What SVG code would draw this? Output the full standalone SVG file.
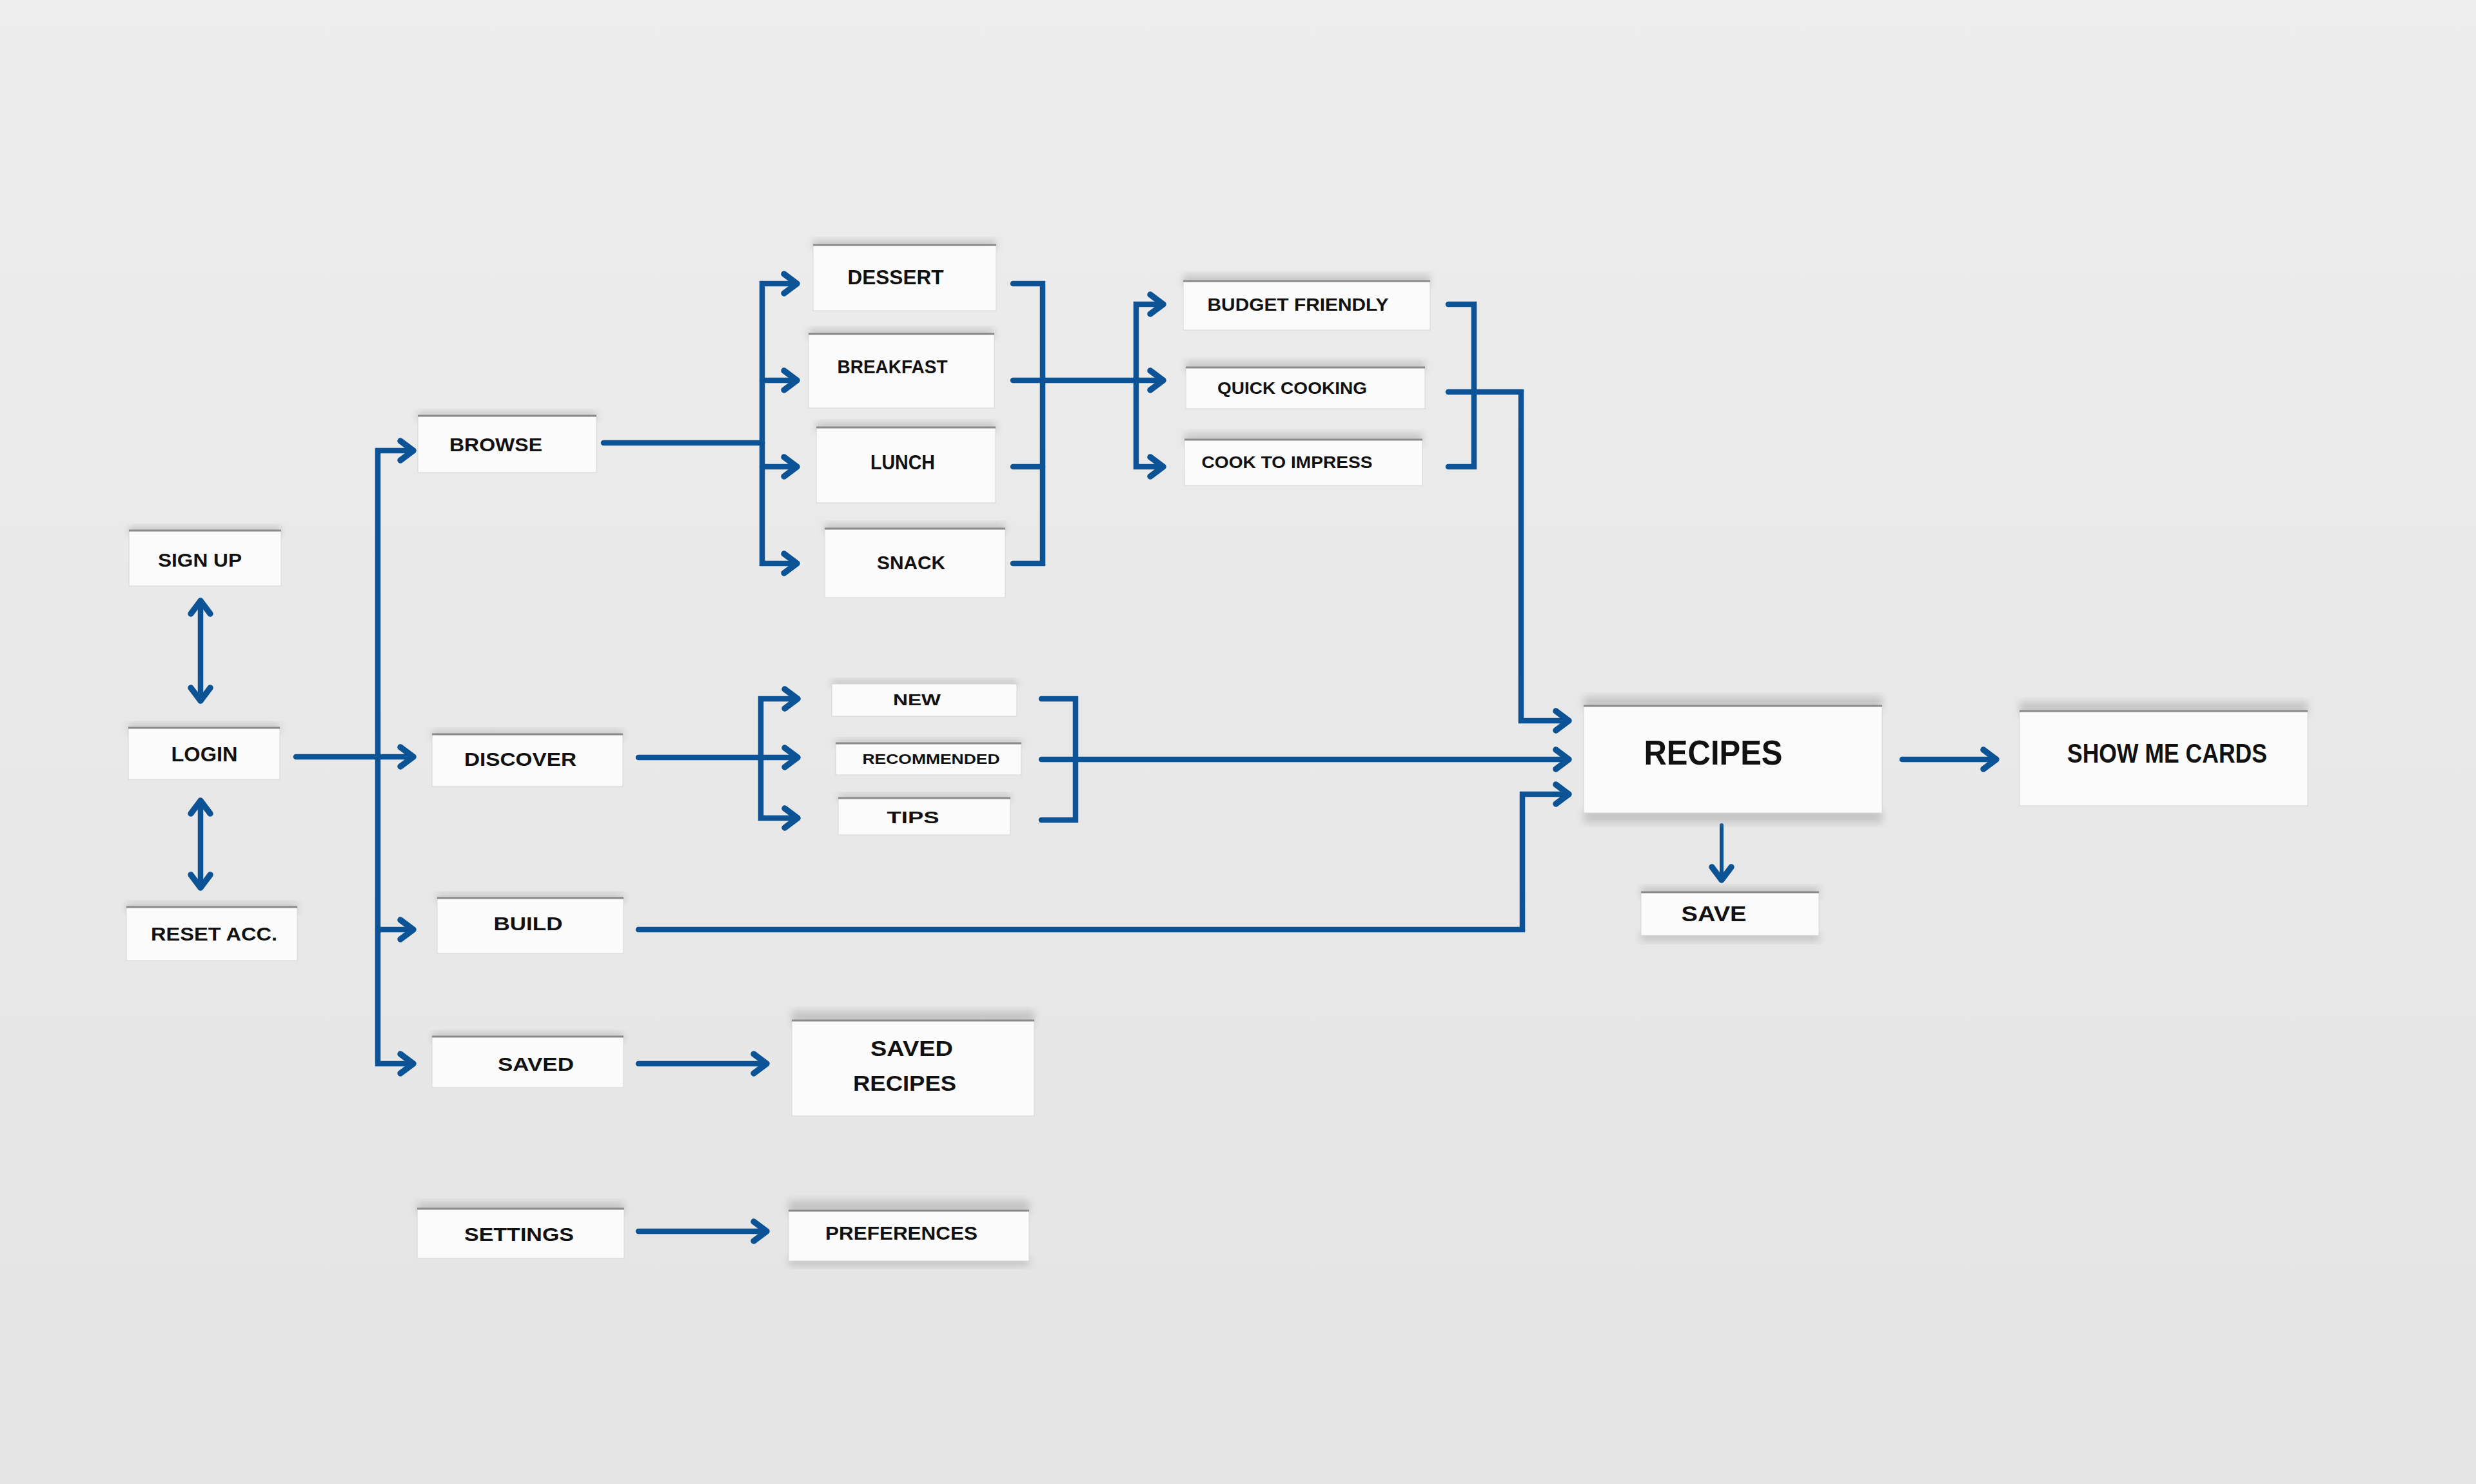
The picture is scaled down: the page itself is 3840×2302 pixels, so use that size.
<svg xmlns="http://www.w3.org/2000/svg" width="3840" height="2302" viewBox="0 0 3840 2302">
<style>
.card{fill:#fbfbfb;stroke:#d6d6d6;stroke-width:1}
.edge{stroke:#8a8a8a;stroke-width:3;fill:none}
.sh{fill:#9c9c9c;opacity:0.45;filter:url(#blur)}
.t{font-family:"Liberation Sans","DejaVu Sans",Arial,sans-serif;font-weight:700;fill:#111;text-anchor:middle;dominant-baseline:central}
.c{fill:none;stroke:#0b5394;stroke-width:8.5;stroke-linecap:round;stroke-linejoin:miter}
.a{marker-end:url(#arr)}
.b{marker-start:url(#arr);marker-end:url(#arr)}
</style>
<defs>
<linearGradient id="bg" x1="0" y1="0" x2="0" y2="1">
<stop offset="0" stop-color="#ededed"/>
<stop offset="1" stop-color="#e4e4e4"/>
</linearGradient>
<filter id="blur" x="-10%" y="-30%" width="120%" height="160%"><feGaussianBlur stdDeviation="6"/></filter>
<marker id="arr" markerUnits="userSpaceOnUse" viewBox="-30 -20 40 40" markerWidth="40" markerHeight="40" refX="0" refY="0" orient="auto-start-reverse" overflow="visible">
<path d="M-20,-15 L0,0 L-20,15" fill="none" stroke="#0b5394" stroke-width="9.5" stroke-linecap="round" stroke-linejoin="round"/>
</marker>
</defs>
<rect width="3840" height="2302" fill="url(#bg)"/>

<g id="connectors">
<path class="c b" d="M311,932 V1087"/>
<path class="c b" d="M311,1242 V1377"/>
<path class="c a" d="M459,1174 H641"/>
<path class="c a" d="M586,1174 V699 H641"/>
<path class="c a" d="M586,1174 V1650 H641"/>
<path class="c a" d="M586,1442 H641"/>
<path class="c" d="M936,687 H1182"/>
<path class="c a" d="M1182,687 V440 H1236"/>
<path class="c a" d="M1182,687 V874 H1236"/>
<path class="c a" d="M1182,590 H1236"/>
<path class="c a" d="M1182,724 H1236"/>
<path class="c" d="M1571,440 H1617 V874 H1571"/>
<path class="c" d="M1571,724 H1617"/>
<path class="c a" d="M1571,590 H1804"/>
<path class="c a" d="M1762,590 V472 H1804"/>
<path class="c a" d="M1762,590 V724 H1804"/>
<path class="c" d="M2246,472 H2286 V724 H2246"/>
<path class="c a" d="M2246,608 H2359 V1118 H2433"/>
<path class="c" d="M990,1175 H1180"/>
<path class="c a" d="M1180,1175 V1084 H1237"/>
<path class="c a" d="M1180,1175 V1269 H1237"/>
<path class="c a" d="M1180,1175 H1237"/>
<path class="c" d="M1615,1084 H1668 V1272 H1615"/>
<path class="c a" d="M1615,1178 H2433"/>
<path class="c a" d="M990,1442 H2361 V1232 H2433"/>
<path class="c a" d="M2950,1178 H3096"/>
<path class="c a" style="stroke-width:6" d="M2670,1280 V1365"/>
<path class="c a" d="M990,1650 H1189"/>
<path class="c a" d="M990,1910 H1189"/>
</g>

<g id="signup"><rect class="sh" x="200" y="817" width="236" height="14"/><rect class="card" x="200" y="823" width="236" height="86"/><line class="edge" x1="200" y1="823" x2="436" y2="823"/><text class="t" x="310" y="868" font-size="30" textLength="130" lengthAdjust="spacingAndGlyphs">SIGN UP</text></g>
<g id="login"><rect class="sh" x="199" y="1123" width="235" height="14"/><rect class="card" x="199" y="1129" width="235" height="80"/><line class="edge" x1="199" y1="1129" x2="434" y2="1129"/><text class="t" x="317" y="1170" font-size="32" textLength="103" lengthAdjust="spacingAndGlyphs">LOGIN</text></g>
<g id="reset"><rect class="sh" x="196" y="1401" width="265" height="14"/><rect class="card" x="196" y="1407" width="265" height="83"/><line class="edge" x1="196" y1="1407" x2="461" y2="1407"/><text class="t" x="332" y="1448" font-size="30" textLength="196" lengthAdjust="spacingAndGlyphs">RESET ACC.</text></g>
<g id="browse"><rect class="sh" x="648" y="639" width="277" height="14"/><rect class="card" x="648" y="645" width="277" height="88"/><line class="edge" x1="648" y1="645" x2="925" y2="645"/><text class="t" x="769" y="689" font-size="30" textLength="144" lengthAdjust="spacingAndGlyphs">BROWSE</text></g>
<g id="discover"><rect class="sh" x="670" y="1133" width="296" height="14"/><rect class="card" x="670" y="1139" width="296" height="81"/><line class="edge" x1="670" y1="1139" x2="966" y2="1139"/><text class="t" x="807" y="1177" font-size="30" textLength="174" lengthAdjust="spacingAndGlyphs">DISCOVER</text></g>
<g id="build"><rect class="sh" x="678" y="1387" width="289" height="14"/><rect class="card" x="678" y="1393" width="289" height="86"/><line class="edge" x1="678" y1="1393" x2="967" y2="1393"/><text class="t" x="819" y="1432" font-size="30" textLength="107" lengthAdjust="spacingAndGlyphs">BUILD</text></g>
<g id="saved"><rect class="sh" x="670" y="1602" width="297" height="14"/><rect class="card" x="670" y="1608" width="297" height="79"/><line class="edge" x1="670" y1="1608" x2="967" y2="1608"/><text class="t" x="831" y="1650" font-size="30" textLength="118" lengthAdjust="spacingAndGlyphs">SAVED</text></g>
<g id="settings"><rect class="sh" x="647" y="1865" width="321" height="18"/><rect class="card" x="647" y="1875" width="321" height="77"/><line class="edge" x1="647" y1="1875" x2="968" y2="1875"/><text class="t" x="805" y="1914" font-size="30" textLength="170" lengthAdjust="spacingAndGlyphs">SETTINGS</text></g>

<g id="dessert"><rect class="sh" x="1261" y="372" width="284" height="16"/><rect class="card" x="1261" y="380" width="284" height="102"/><line class="edge" x1="1261" y1="380" x2="1545" y2="380"/><text class="t" x="1389" y="430" font-size="32" textLength="149" lengthAdjust="spacingAndGlyphs">DESSERT</text></g>
<g id="breakfast"><rect class="sh" x="1254" y="510" width="288" height="16"/><rect class="card" x="1254" y="518" width="288" height="115"/><line class="edge" x1="1254" y1="518" x2="1542" y2="518"/><text class="t" x="1384" y="568" font-size="30" textLength="171" lengthAdjust="spacingAndGlyphs">BREAKFAST</text></g>
<g id="lunch"><rect class="sh" x="1266" y="655" width="278" height="16"/><rect class="card" x="1266" y="663" width="278" height="117"/><line class="edge" x1="1266" y1="663" x2="1544" y2="663"/><text class="t" x="1400" y="717" font-size="32" textLength="100" lengthAdjust="spacingAndGlyphs">LUNCH</text></g>
<g id="snack"><rect class="sh" x="1279" y="812" width="280" height="16"/><rect class="card" x="1279" y="820" width="280" height="107"/><line class="edge" x1="1279" y1="820" x2="1559" y2="820"/><text class="t" x="1413" y="872" font-size="30" textLength="106" lengthAdjust="spacingAndGlyphs">SNACK</text></g>

<g id="budget"><rect class="sh" x="1835" y="426" width="383" height="18"/><rect class="card" x="1835" y="436" width="383" height="76"/><line class="edge" x1="1835" y1="436" x2="2218" y2="436"/><text class="t" x="2013" y="472" font-size="28" textLength="281" lengthAdjust="spacingAndGlyphs">BUDGET FRIENDLY</text></g>
<g id="quick"><rect class="sh" x="1839" y="560" width="371" height="18"/><rect class="card" x="1839" y="570" width="371" height="64"/><line class="edge" x1="1839" y1="570" x2="2210" y2="570"/><text class="t" x="2004" y="602" font-size="26" textLength="232" lengthAdjust="spacingAndGlyphs">QUICK COOKING</text></g>
<g id="cook"><rect class="sh" x="1837" y="672" width="369" height="18"/><rect class="card" x="1837" y="682" width="369" height="71"/><line class="edge" x1="1837" y1="682" x2="2206" y2="682"/><text class="t" x="1996" y="717" font-size="26" textLength="265" lengthAdjust="spacingAndGlyphs">COOK TO IMPRESS</text></g>

<g id="new"><rect class="sh" x="1290" y="1055" width="287" height="12"/><rect class="card" x="1290" y="1061" width="287" height="50"/><text class="t" x="1422" y="1085" font-size="24" textLength="74" lengthAdjust="spacingAndGlyphs">NEW</text></g>
<g id="recommended"><rect class="sh" x="1296" y="1147" width="288" height="12"/><rect class="card" x="1296" y="1153" width="288" height="49"/><line class="edge" x1="1296" y1="1153" x2="1584" y2="1153"/><text class="t" x="1444" y="1177" font-size="22" textLength="213" lengthAdjust="spacingAndGlyphs">RECOMMENDED</text></g>
<g id="tips"><rect class="sh" x="1300" y="1232" width="267" height="12"/><rect class="card" x="1300" y="1238" width="267" height="57"/><line class="edge" x1="1300" y1="1238" x2="1567" y2="1238"/><text class="t" x="1416" y="1268" font-size="26" textLength="81" lengthAdjust="spacingAndGlyphs">TIPS</text></g>

<g id="recipes"><rect class="sh" x="2456" y="1080" width="463" height="22"/><rect class="sh" x="2456" y="1255" width="463" height="22"/><rect class="card" x="2456" y="1095" width="463" height="166"/><line class="edge" x1="2456" y1="1095" x2="2919" y2="1095"/><text class="t" x="2657" y="1167" font-size="54" textLength="215" lengthAdjust="spacingAndGlyphs">RECIPES</text></g>
<g id="showmecards"><rect class="sh" x="3132" y="1088" width="447" height="22"/><rect class="card" x="3132" y="1103" width="447" height="147"/><line class="edge" x1="3132" y1="1103" x2="3579" y2="1103"/><text class="t" x="3361" y="1168" font-size="42" textLength="310" lengthAdjust="spacingAndGlyphs">SHOW ME CARDS</text></g>
<g id="save"><rect class="sh" x="2545" y="1376" width="276" height="16"/><rect class="sh" x="2545" y="1446" width="276" height="14"/><rect class="card" x="2545" y="1384" width="276" height="67"/><line class="edge" x1="2545" y1="1384" x2="2821" y2="1384"/><text class="t" x="2658" y="1417" font-size="34" textLength="101" lengthAdjust="spacingAndGlyphs">SAVE</text></g>

<g id="savedrecipes"><rect class="sh" x="1228" y="1568" width="376" height="22"/><rect class="card" x="1228" y="1583" width="376" height="148"/><line class="edge" x1="1228" y1="1583" x2="1604" y2="1583"/><text class="t" x="1414" y="1626" font-size="34" textLength="128" lengthAdjust="spacingAndGlyphs">SAVED</text><text class="t" x="1403" y="1680" font-size="34" textLength="160" lengthAdjust="spacingAndGlyphs">RECIPES</text></g>
<g id="preferences"><rect class="sh" x="1223" y="1862" width="373" height="22"/><rect class="sh" x="1223" y="1950" width="373" height="14"/><rect class="card" x="1223" y="1878" width="373" height="78"/><line class="edge" x1="1223" y1="1878" x2="1596" y2="1878"/><text class="t" x="1398" y="1912" font-size="30" textLength="236" lengthAdjust="spacingAndGlyphs">PREFERENCES</text></g>
</svg>
